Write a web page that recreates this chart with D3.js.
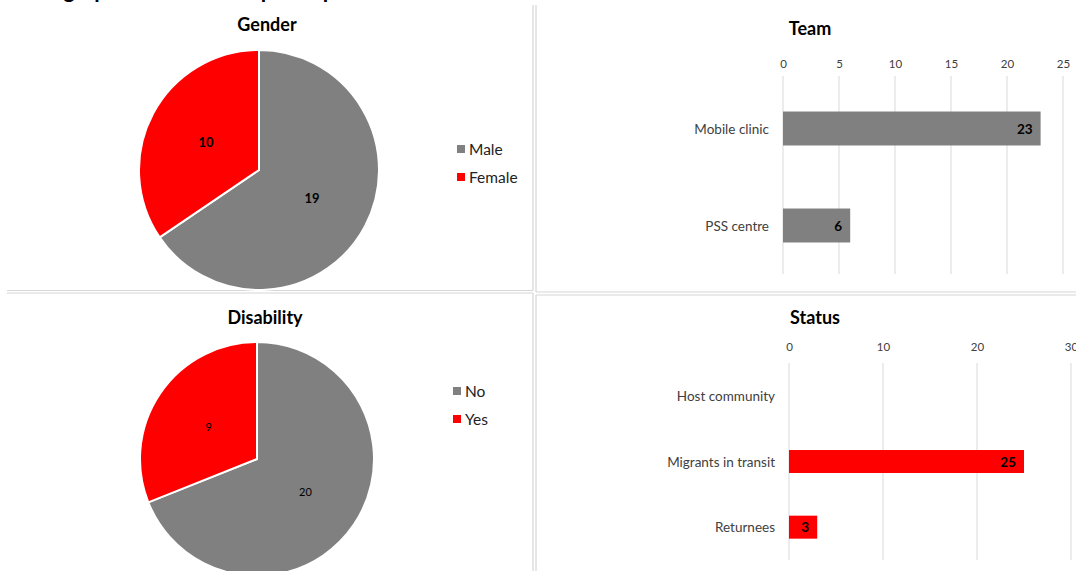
<!DOCTYPE html>
<html lang="en">
<head>
    <meta charset="UTF-8">
    <title>Demographic overview</title>
    <script src="https://cdn.jsdelivr.net/npm/d3@7"></script>
    <style>
        body { margin: 0; background: #fff; }
        text { font-family: Lato, "Open Sans", sans-serif; }
    </style>
</head>
<body>
    <script>

		// data
		var genderLabels = ["Male", "Female"];
		var genderValues = [19, 10];
		var disabilityLabels = ["No", "Yes"];
		var disabilityValues = [20, 9];
		var teamCategories = ["Mobile clinic", "PSS centre"];
		var teamValues = [23, 6];
		var teamTicks = [0, 5, 10, 15, 20, 25];
		var statusCategories = ["Host community", "Migrants in transit", "Returnees"];
		var statusValues = [0, 25, 3];
		var statusTicks = [0, 10, 20, 30];

		var grey = "#808080", red = "#ff0000", border = "#d6d6d6", grid = "#d9d9d9";
		var width = 1076, height = 571;

		var svg = d3.select("body")
					.append("svg")
					.attr("width", width)
					.attr("height", height);

		// cut off page title at the very top
		svg.append("text").text("Demographic overview of participants")
			.attr("x", 4).attr("y", -2)
			.attr("font-size", 22).attr("font-weight", "bold")
			.attr("fill", "#000");

		// panel borders (double lines where panels meet)
		var borderLines = [
			[533, 5, 533, 290.5], [536, 5, 536, 292],
			[533, 293, 533, 571], [536, 295, 536, 571],
			[7, 290.5, 533, 290.5], [536, 292, 1076, 292],
			[7, 293, 533, 293], [536, 295, 1076, 295]
		];
		svg.selectAll("line.border").data(borderLines).enter().append("line")
			.attr("class", "border")
			.attr("x1", function(d) { return d[0]; })
			.attr("y1", function(d) { return d[1]; })
			.attr("x2", function(d) { return d[2]; })
			.attr("y2", function(d) { return d[3]; })
			.attr("stroke", border)
			.attr("stroke-width", 1.2);

		function title(txt, x, y) {
			svg.append("text").text(txt)
				.attr("x", x).attr("y", y)
				.attr("text-anchor", "middle")
				.attr("dominant-baseline", "central")
				.attr("font-size", 18).attr("font-weight", "bold")
				.attr("fill", "#000");
		}

		function pieChart(labels, values, cx, cy, r, labelSize, labelWeight, legX, legY) {
			var pie = d3.pie().sort(null);
			var arc = d3.arc().innerRadius(0).outerRadius(r);
			var color = d3.scaleOrdinal().domain(labels).range([grey, red]);
			var g = svg.append("g").attr("transform", "translate(" + cx + "," + cy + ")");
			var slices = g.selectAll("g").data(pie(values)).enter().append("g");
			slices.append("path")
				.attr("d", arc)
				.attr("fill", function(d, i) { return color(labels[i]); })
				.attr("stroke", "#fff")
				.attr("stroke-width", 2);
			slices.append("text")
				.text(function(d) { return d.data; })
				.attr("transform", function(d) { return "translate(" + arc.centroid(d) + ")"; })
				.attr("text-anchor", "middle")
				.attr("dominant-baseline", "central")
				.attr("font-size", labelSize)
				.attr("font-weight", labelWeight)
				.attr("fill", "#000");

			var leg = svg.append("g").selectAll("g").data(labels).enter().append("g")
				.attr("transform", function(d, i) { return "translate(" + legX + "," + (legY + i * 28) + ")"; });
			leg.append("rect")
				.attr("x", 0).attr("y", -4)
				.attr("width", 8).attr("height", 8)
				.attr("fill", function(d) { return color(d); });
			leg.append("text").text(function(d) { return d; })
				.attr("x", 12).attr("y", 0)
				.attr("dominant-baseline", "central")
				.attr("font-size", 15.5)
				.attr("fill", "#222");
		}

		function barChart(cats, values, ticks, x0, x1, y0, y1, gridTop, tickY, fill) {
			var x = d3.scaleLinear().domain([0, ticks[ticks.length - 1]]).range([x0, x1]);
			var y = d3.scaleBand().domain(cats).range([y0, y1]).paddingInner(0.65).paddingOuter(0.325);
			var g = svg.append("g");

			g.selectAll("line.grid").data(ticks).enter().append("line")
				.attr("class", "grid")
				.attr("x1", function(d) { return x(d); })
				.attr("x2", function(d) { return x(d); })
				.attr("y1", gridTop).attr("y2", y1)
				.attr("stroke", grid);

			var axis = g.append("g")
				.attr("transform", "translate(0," + tickY + ")")
				.call(d3.axisTop(x).tickValues(ticks).tickSize(0).tickPadding(0));
			axis.select(".domain").remove();
			axis.selectAll("text")
				.attr("font-family", "Lato, 'Open Sans', sans-serif")
				.attr("font-size", 11.5)
				.attr("fill", "#404040")
				.attr("dy", "0.35em");

			g.selectAll("text.cat").data(cats).enter().append("text")
				.attr("class", "cat")
				.text(function(d) { return d; })
				.attr("x", x0 - 14)
				.attr("y", function(d) { return y(d) + y.bandwidth() / 2; })
				.attr("text-anchor", "end")
				.attr("dominant-baseline", "central")
				.attr("font-size", 13.5)
				.attr("fill", "#404040");

			var bars = cats.map(function(c, i) { return { cat: c, val: values[i] }; })
				.filter(function(d) { return d.val > 0; });
			g.selectAll("rect.bar").data(bars).enter().append("rect")
				.attr("class", "bar")
				.attr("x", x(0))
				.attr("y", function(d) { return y(d.cat); })
				.attr("width", function(d) { return x(d.val) - x(0); })
				.attr("height", y.bandwidth())
				.attr("fill", fill);
			g.selectAll("text.val").data(bars).enter().append("text")
				.attr("class", "val")
				.text(function(d) { return d.val; })
				.attr("x", function(d) { return x(d.val) - 8; })
				.attr("y", function(d) { return y(d.cat) + y.bandwidth() / 2; })
				.attr("text-anchor", "end")
				.attr("dominant-baseline", "central")
				.attr("font-size", 13.5)
				.attr("font-weight", "bold")
				.attr("fill", "#000");
		}

		title("Gender", 267, 24);
		pieChart(genderLabels, genderValues, 259, 170, 120, 13, "bold", 457, 149);

		title("Disability", 265, 317);
		pieChart(disabilityLabels, disabilityValues, 257, 459, 117, 11, "normal", 453, 391);

		title("Team", 810, 28);
		barChart(teamCategories, teamValues, teamTicks, 783, 1063, 80, 274, 76, 64, grey);

		title("Status", 815, 317);
		barChart(statusCategories, statusValues, statusTicks, 789, 1071, 363, 560, 363, 347, red);

    </script>
</body>
</html>
